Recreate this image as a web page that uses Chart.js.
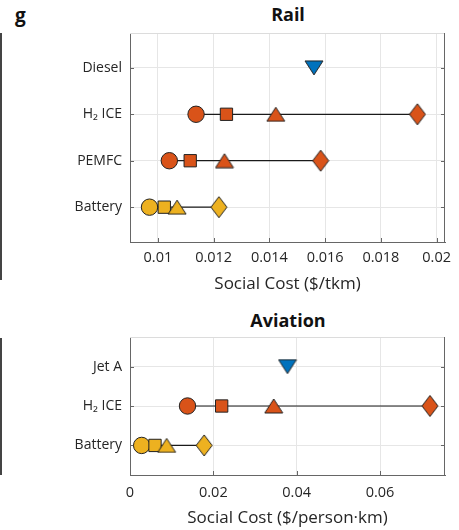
<!DOCTYPE html>
<html>
<head>
<meta charset="utf-8">
<script src="https://cdn.jsdelivr.net/npm/chart.js@4.4.0/dist/chart.umd.min.js"></script>
<style>
  body { margin: 0; background: #fff; }
  #wrap { position: relative; width: 459px; height: 530px; overflow: hidden; font-family: "Open Sans", sans-serif; color: #222; }
  .box { position: absolute; left: 0; width: 459px; }
  #railBox { top: 0; height: 300px; }
  #aviBox { top: 300px; height: 230px; }
  .title { position: absolute; font-weight: bold; font-size: 18px; line-height: 18px; color: #111; transform: translateX(-50%); white-space: nowrap; }
  .panel { position: absolute; left: 15px; top: 6px; font-weight: bold; font-size: 19px; line-height: 19px; color: #111; }
  .edge { position: absolute; left: 0; width: 2px; background: #444; }
</style>
</head>
<body>
<div id="wrap">
  <div class="panel">g</div>
  <div class="edge" style="top:33px;height:247px"></div>
  <div class="edge" style="top:338px;height:137px"></div>
  <div class="title" style="left:288px;top:5px">Rail</div>
  <div class="title" style="left:288px;top:311px">Aviation</div>
  <div class="box" id="railBox"><canvas id="railChart" width="459" height="300"></canvas></div>
  <div class="box" id="aviBox"><canvas id="aviChart" width="459" height="230"></canvas></div>
</div>
<script>
// Rail
const railCategories = ['Diesel', 'H\u2082 ICE', 'PEMFC', 'Battery'];
const railDiesel = [0.0156];
const railH2Ice = [0.01137, 0.01246, 0.01423, 0.01931];
const railPemfc = [0.01041, 0.01116, 0.01239, 0.01584];
const railBattery = [0.0097, 0.01023, 0.01069, 0.01219];
const railTicks = [0.01, 0.012, 0.014, 0.016, 0.018, 0.02];
const railTickLabels = ['0.01', '0.012', '0.014', '0.016', '0.018', '0.02'];

// Aviation
const aviationCategories = ['Jet A', 'H\u2082 ICE', 'Battery'];
const aviationJetA = [0.0378];
const aviationH2Ice = [0.0138, 0.022, 0.0345, 0.072];
const aviationBattery = [0.0028, 0.006, 0.0088, 0.0178];
const aviationTicks = [0, 0.02, 0.04, 0.06];
const aviationTickLabels = ['0', '0.02', '0.04', '0.06'];

const ORANGE = '#D95319';
const YELLOW = '#EDB120';
const BLUE = '#0072BD';
const TEXT = '#262626';

// marker glyphs like matlab's: ^ and v triangles, tall diamond
function markerImage(shape, color) {
    const w = shape === 'diamond' ? 16 : 18;
    const h = shape === 'diamond' ? 21 : 14;
    const c = document.createElement('canvas');
    c.width = w + 2;
    c.height = h + 2;
    const ctx = c.getContext('2d');
    ctx.translate(1, 1);
    ctx.beginPath();
    if (shape === 'diamond') {
        ctx.moveTo(w / 2, 0); ctx.lineTo(w, h / 2); ctx.lineTo(w / 2, h); ctx.lineTo(0, h / 2);
    } else if (shape === 'up') {
        ctx.moveTo(w / 2, 0); ctx.lineTo(w, h); ctx.lineTo(0, h);
    } else {
        ctx.moveTo(0, 0); ctx.lineTo(w, 0); ctx.lineTo(w / 2, h);
    }
    ctx.closePath();
    ctx.fillStyle = color;
    ctx.fill();
    ctx.lineWidth = 1;
    ctx.strokeStyle = '#222';
    ctx.stroke();
    return c;
}

function rowDataset(values, row, color) {
    const single = values.length === 1;
    return {
        data: values.map(v => ({ x: v, y: row })),
        showLine: true,
        borderColor: '#1a1a1a',
        borderWidth: 1.2,
        pointStyle: single ? [markerImage('down', color)]
            : ['circle', 'rect', markerImage('up', color), markerImage('diamond', color)],
        pointRadius: single ? 9 : [8.2, 8.7, 9, 9],
        pointBackgroundColor: color,
        pointBorderColor: '#222',
        pointBorderWidth: 1
    };
}

// right/top frame and inward tick marks like the original axes box
const framePlugin = {
    id: 'frame',
    beforeDatasetsDraw(chart) {
        const { ctx, chartArea: a, scales } = chart;
        ctx.save();
        ctx.lineWidth = 1;
        ctx.strokeStyle = '#dcdcdc';
        ctx.beginPath();
        ctx.moveTo(a.left, a.top + 0.5);
        ctx.lineTo(a.right, a.top + 0.5);
        ctx.stroke();
        ctx.strokeStyle = '#666';
        ctx.beginPath();
        ctx.moveTo(a.right - 0.5, a.top);
        ctx.lineTo(a.right - 0.5, a.bottom);
        scales.y.ticks.forEach(t => {
            const y = Math.round(scales.y.getPixelForValue(t.value)) + 0.5;
            ctx.moveTo(a.left, y); ctx.lineTo(a.left + 4, y);
            ctx.moveTo(a.right, y); ctx.lineTo(a.right - 4, y);
        });
        scales.x.ticks.forEach(t => {
            const x = Math.round(scales.x.getPixelForValue(t.value)) + 0.5;
            ctx.moveTo(x, a.bottom); ctx.lineTo(x, a.bottom - 4);
        });
        ctx.stroke();
        ctx.restore();
    }
};

function makeChart(id, categories, datasets, ticks, tickLabels, xMin, xMax, axisTitle, dims) {
    const family = '"Open Sans", sans-serif';
    return new Chart(document.getElementById(id), {
        type: 'scatter',
        data: { datasets: datasets },
        options: {
            responsive: false,
            animation: false,
            events: [],
            layout: { padding: { top: dims.top, right: 14, left: 0, bottom: 0 } },
            plugins: { legend: { display: false }, tooltip: { enabled: false } },
            scales: {
                x: {
                    type: 'linear',
                    min: xMin,
                    max: xMax,
                    afterBuildTicks: s => { s.ticks = ticks.map(v => ({ value: v })); },
                    afterFit: s => { s.height = dims.xHeight; },
                    ticks: {
                        callback: (v, i) => tickLabels[i],
                        font: { family: family, size: 14.5 }, color: TEXT, padding: dims.tickPad,
                        autoSkip: false, maxRotation: 0
                    },
                    grid: { color: '#e6e6e6', drawTicks: false },
                    border: { color: '#666', width: 1 },
                    title: {
                        display: true, text: axisTitle, color: TEXT,
                        font: { family: family, size: 17 },
                        padding: { top: 0, bottom: dims.titlePad }
                    }
                },
                y: {
                    type: 'linear',
                    min: 0.25,
                    max: categories.length + 0.75,
                    reverse: true,
                    afterBuildTicks: s => { s.ticks = categories.map((c, i) => ({ value: i + 1 })); },
                    afterFit: s => { s.width = 130; },
                    ticks: {
                        callback: (v, i) => categories[i],
                        font: { family: family, size: 14 }, color: TEXT, padding: 8, autoSkip: false
                    },
                    grid: { color: '#e6e6e6', drawTicks: false },
                    border: { color: '#666', width: 1 }
                }
            }
        },
        plugins: [framePlugin]
    });
}

makeChart('railChart', railCategories, [
    rowDataset(railDiesel, 1, BLUE),
    rowDataset(railH2Ice, 2, ORANGE),
    rowDataset(railPemfc, 3, ORANGE),
    rowDataset(railBattery, 4, YELLOW)
], railTicks, railTickLabels, 0.009, 0.0203, 'Social Cost ($/tkm)',
    { top: 33, xHeight: 58, tickPad: 7, titlePad: 6 });

makeChart('aviChart', aviationCategories, [
    rowDataset(aviationJetA, 1, BLUE),
    rowDataset(aviationH2Ice, 2, ORANGE),
    rowDataset(aviationBattery, 3, YELLOW)
], aviationTicks, aviationTickLabels, 0, 0.0756, 'Social Cost ($/person\u00b7km)',
    { top: 37, xHeight: 55, tickPad: 9, titlePad: 2 });
</script>
</body>
</html>
